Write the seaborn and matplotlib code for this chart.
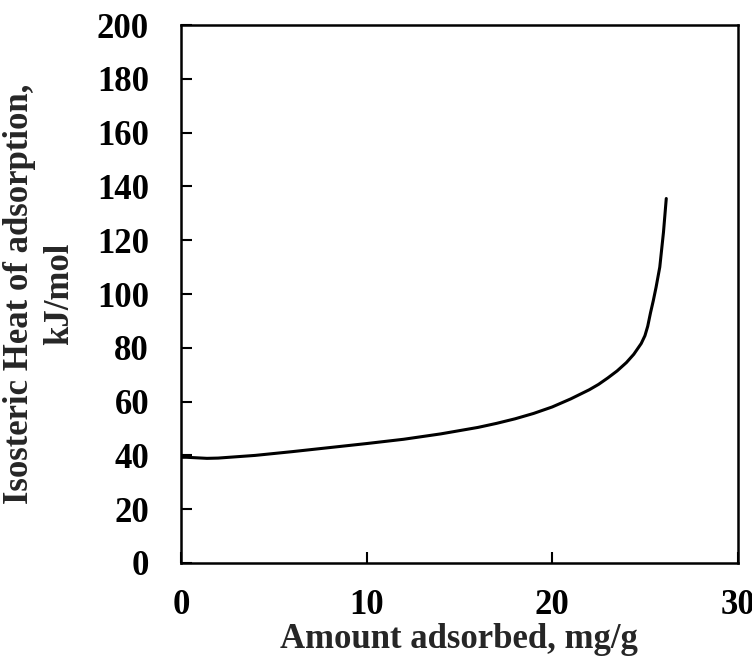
import pandas as pd
import matplotlib
matplotlib.use("Agg")
import matplotlib.pyplot as plt
import seaborn as sns

# Dane
amount = [0.0, 0.3, 1.4, 2.0, 4.0, 6.0, 8.0, 10.0, 12.0, 14.0, 16.0, 17.0, 18.0, 19.0,
          20.0, 21.0, 22.0, 22.5, 23.0, 23.5, 24.0, 24.4, 24.8, 25.0, 25.15, 25.3,
          25.45, 25.6, 25.8, 26.0, 26.15]
heat = [39.3, 39.3, 38.9, 39.0, 40.0, 41.4, 42.9, 44.4, 46.0, 48.0, 50.4, 51.9, 53.6, 55.6,
        58.0, 61.0, 64.4, 66.4, 68.8, 71.4, 74.5, 77.6, 81.6, 84.5, 88.0, 93.0,
        97.5, 102.5, 110.0, 123.0, 135.5]

x_ticks = [0, 10, 20, 30]
y_ticks = [0, 20, 40, 60, 80, 100, 120, 140, 160, 180, 200]

df = pd.DataFrame({"amount": amount, "heat": heat})

sns.set_theme(style="ticks")
plt.rcParams["font.family"] = ["Liberation Serif", "DejaVu Serif"]
plt.rcParams["font.weight"] = "bold"

fig = plt.figure(figsize=(7.52, 6.59), dpi=100)
ax = fig.add_axes([0.2407, 0.1457, 0.7403, 0.8163])

sns.lineplot(data=df, x="amount", y="heat", sort=False, color="black",
             linewidth=2.2, ax=ax)

ax.set_xlim(0, 30)
ax.set_ylim(0, 200)
ax.set_xticks(x_ticks)
ax.set_yticks(y_ticks)
ax.tick_params(direction="in", length=8, width=1.5, labelsize=25, color="black",
               labelcolor="black")
ax.tick_params(axis="x", pad=19)
ax.tick_params(axis="y", pad=23)
for lbl in ax.get_xticklabels() + ax.get_yticklabels():
    lbl.set_fontweight("bold")

for s in ax.spines.values():
    s.set_linewidth(1.8)
    s.set_color("black")

ax.set_xlabel("Amount adsorbed, mg/g", fontsize=25, fontweight="bold")
ax.set_ylabel("Isosteric Heat of adsorption,\nkJ/mol", fontsize=25,
              fontweight="bold", linespacing=1.3)
ax.xaxis.set_label_coords(0.5, -0.112)
ax.yaxis.set_label_coords(-0.188, 0.5)

fig.savefig("out.png", dpi=100)
